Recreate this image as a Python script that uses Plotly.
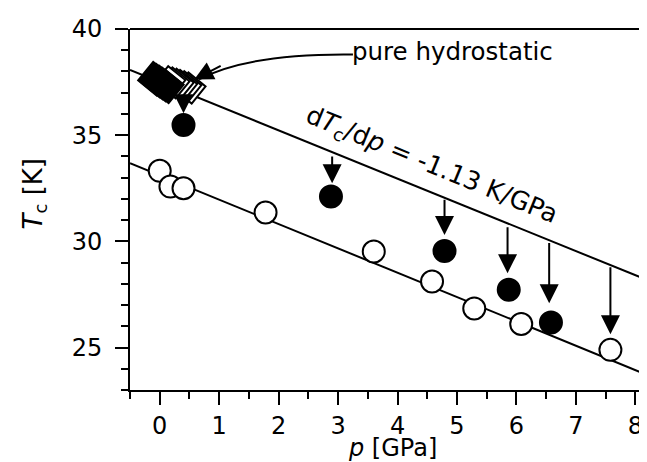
import plotly.graph_objects as go

# --- data ---
p_open = [0.0, 0.18, 0.40, 1.78, 3.60, 4.58, 5.29, 6.08, 7.58]
T_open = [33.32, 32.58, 32.50, 31.36, 29.52, 28.11, 26.84, 26.11, 24.89]

p_filled = [0.40, 2.88, 4.79, 5.87, 6.58]
T_filled = [35.48, 32.11, 29.55, 27.72, 26.18]

# pure hydrostatic points: outer (drawn first, right to left) and densely packed core
p_hydro_outer = [0.51, 0.44, 0.37, 0.31, 0.24, 0.17]
T_hydro_outer = [37.22, 37.28, 37.34, 37.40, 37.46, 37.52]
p_hydro_core = [0.12, 0.07, 0.02, -0.03, -0.08]
T_hydro_core = [37.30, 37.39, 37.48, 37.57, 37.66]

# fitted lines (endpoints)
p_line = [-0.5, 8.4]
T_upper = [38.07, 27.95]
T_lower = [33.68, 23.48]

# arrows from the hydrostatic line down to the measured points
p_arrow = [0.40, 2.90, 4.79, 5.85, 6.55, 7.58]
T_arrow_start = [36.97, 34.07, 32.03, 30.73, 29.99, 28.85]
T_arrow_end = [36.03, 32.74, 30.30, 28.50, 27.09, 25.62]

# curved pointer for "pure hydrostatic"
curve_p = [3.25, 1.50, 0.66]
curve_T = [38.80, 38.86, 37.63]

FONT = "DejaVu Sans, Liberation Sans, Arial, sans-serif"
FS = 24

fig = go.Figure()
fig.add_trace(go.Scatter(x=p_line, y=T_upper, mode="lines",
                         line=dict(color="black", width=2), showlegend=False))
fig.add_trace(go.Scatter(x=p_line, y=T_lower, mode="lines",
                         line=dict(color="black", width=2), showlegend=False))
fig.add_trace(go.Scatter(x=p_open, y=T_open, mode="markers",
                         marker=dict(symbol="circle", size=22, color="white",
                                     line=dict(color="black", width=2)),
                         showlegend=False))
fig.add_trace(go.Scatter(x=p_filled, y=T_filled, mode="markers",
                         marker=dict(symbol="circle", size=22, color="black",
                                     line=dict(color="black", width=2)),
                         showlegend=False))
fig.add_trace(go.Scatter(x=p_hydro_outer, y=T_hydro_outer, mode="markers",
                         marker=dict(symbol="diamond", size=24, angle=-6,
                                     color="white", line=dict(color="black", width=2)),
                         showlegend=False))
fig.add_trace(go.Scatter(x=p_hydro_core, y=T_hydro_core, mode="markers",
                         marker=dict(symbol="diamond", size=26, angle=-6,
                                     color="black", line=dict(color="black", width=2)),
                         showlegend=False))

annotations = []
for px, t0, t1 in zip(p_arrow, T_arrow_start, T_arrow_end):
    annotations.append(dict(x=px, y=t1, ax=px, ay=t0, xref="x", yref="y",
                            axref="x", ayref="y", text="", showarrow=True,
                            arrowhead=2, arrowsize=1.9, arrowwidth=2,
                            arrowcolor="black"))
# head of the curved pointer
annotations.append(dict(x=0.58, y=37.62, ax=1.05, ay=38.3, xref="x", yref="y",
                        axref="x", ayref="y", text="", showarrow=True,
                        arrowhead=2, arrowsize=1.9, arrowwidth=2, arrowcolor="black"))
annotations.append(dict(x=3.20, y=38.92, xref="x", yref="y", text="pure hydrostatic",
                        showarrow=False, xanchor="left", yanchor="middle",
                        font=dict(family=FONT, size=24.5, color="black")))
annotations.append(dict(x=4.57, y=33.58, xref="x", yref="y",
                        text="d<i>T</i><sub>c</sub>/d<i>p</i> = -1.13 K/GPa",
                        showarrow=False, textangle=22.3,
                        font=dict(family=FONT, size=25.5, color="black")))
# axis titles
annotations.append(dict(x=0, y=0.5, xref="paper", yref="paper", xshift=-96, yshift=16,
                        text="<i>T</i><sub>c</sub> [K]", showarrow=False, textangle=-90,
                        xanchor="center", yanchor="middle",
                        font=dict(family=FONT, size=26, color="black")))
annotations.append(dict(x=0.5, y=0, xref="paper", yref="paper", yshift=-58,
                        text="<i>p</i> [GPa]", showarrow=False,
                        xanchor="center", yanchor="middle",
                        font=dict(family=FONT, size=24, color="black")))

shapes = [
    dict(type="path", xref="x", yref="y",
         path=f"M {curve_p[0]},{curve_T[0]} Q {curve_p[1]},{curve_T[1]} {curve_p[2]},{curve_T[2]}",
         line=dict(color="black", width=2)),
    dict(type="line", xref="paper", yref="paper", x0=0, x1=1, y0=1, y1=1,
         line=dict(color="black", width=2)),
    dict(type="line", xref="paper", yref="paper", x0=0, x1=0, y0=0, y1=-0.012,
         line=dict(color="black", width=2)),
]

fig.update_layout(
    width=647, height=462,
    margin=dict(l=122, r=0, t=21, b=80),
    paper_bgcolor="white", plot_bgcolor="white",
    font=dict(family=FONT, size=FS, color="black"),
    annotations=annotations, shapes=shapes,
    xaxis=dict(range=[-0.5, 8.33], showgrid=False, zeroline=False,
               showline=True, linecolor="black", linewidth=2,
               ticks="outside", ticklen=13, tickwidth=2, tickcolor="black",
               tick0=0, dtick=1,
               minor=dict(ticks="outside", ticklen=7, tickwidth=2,
                          tickcolor="black", dtick=0.5, tick0=0),
               tickfont=dict(family=FONT, size=FS)),
    yaxis=dict(range=[23, 40], showgrid=False, zeroline=False,
               showline=True, linecolor="black", linewidth=2,
               ticks="outside", ticklen=13, tickwidth=2, tickcolor="black",
               tick0=0, dtick=5, ticklabelstandoff=8,
               minor=dict(ticks="outside", ticklen=7, tickwidth=2,
                          tickcolor="black", dtick=1, tick0=0),
               tickfont=dict(family=FONT, size=FS)),
)

fig.write_html("out.html")
